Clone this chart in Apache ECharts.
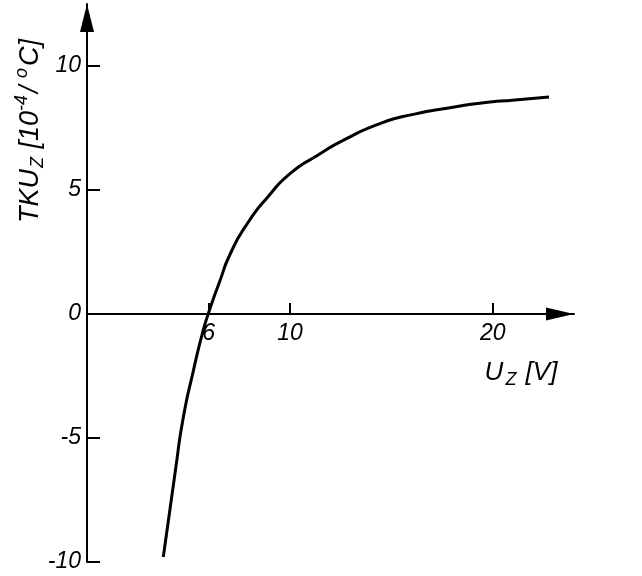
<!DOCTYPE html>
<html>
<head>
<meta charset="utf-8">
<script src="https://cdn.jsdelivr.net/npm/echarts@6/dist/echarts.min.js"></script>
<style>
html,body{margin:0;padding:0;background:#fff;}
#chart{width:642px;height:576px;}
</style>
</head>
<body>
<div id="chart"></div>
<script>
// Data
var uz = [3.76, 4.36, 4.75, 5.25, 5.69, 5.99, 6.53, 7.08, 7.92, 8.91, 10.05, 11.39, 12.67, 14.50, 16.14, 17.82, 19.46, 21.09, 22.77];
var tku = [-9.80, -6.29, -4.15, -2.26, -0.77, 0.04, 1.29, 2.46, 3.67, 4.72, 5.69, 6.41, 7.02, 7.70, 8.06, 8.31, 8.51, 8.63, 8.75];
var xTickValues = [6, 10, 20];
var yTickValues = [-10, -5, 0, 5, 10];

var points = uz.map(function (v, i) { return [v, tku[i]]; });
var font = 'Liberation Sans, Arial, sans-serif';

var chart = echarts.init(document.getElementById('chart'), null, {renderer: 'canvas'});
chart.setOption({
  backgroundColor: '#ffffff',
  animation: false,
  grid: {left: 87, right: 68, top: 4, bottom: 14, containLabel: false, outerBoundsMode: 'none'},
  xAxis: {
    type: 'value', min: 0, max: 24, position: 'bottom',
    axisLine: {onZero: false, lineStyle: {color: '#000', width: 2}, symbol: ['none', 'triangle'], symbolSize: [13, 28], symbolOffset: [0, -14]},
    axisTick: {show: true, inside: true, length: 11, lineStyle: {color: '#000', width: 2}, customValues: xTickValues},
    axisLabel: {color: '#000', fontSize: 23, fontStyle: 'italic', fontFamily: font, margin: 8, customValues: xTickValues},
    splitLine: {show: false}
  },
  yAxis: {
    type: 'value', min: -10, max: 12.5,
    axisLine: {lineStyle: {color: '#000', width: 2}, symbol: ['none', 'triangle'], symbolSize: [14, 28], symbolOffset: [0, -14]},
    axisTick: {show: true, inside: true, length: 13, lineStyle: {color: '#000', width: 2}, customValues: yTickValues},
    axisLabel: {color: '#000', fontSize: 23, fontStyle: 'italic', fontFamily: font, margin: 6, customValues: yTickValues},
    splitLine: {show: false}
  },
  series: [{
    type: 'line',
    data: points,
    smooth: 0.6,
    showSymbol: false,
    lineStyle: {color: '#000', width: 3},
    z: 5
  }],
  graphic: [
    {
      type: 'text',
      x: 30, y: 131,
      rotation: Math.PI / 2,
      style: {
        text: '{m|TKU}{sub|Z}{m| [10}{sup|-4}{m|/ }{sup|o}{m|C]}',
        align: 'center', verticalAlign: 'middle',
        fill: '#000',
        rich: {
          m: {fontSize: 27, fontStyle: 'italic', fontFamily: font, lineHeight: 34, fill: '#000'},
          sub: {fontSize: 18, fontStyle: 'italic', fontFamily: font, lineHeight: 34, verticalAlign: 'bottom', padding: [10, 1, 0, 1], fill: '#000'},
          sup: {fontSize: 18, fontStyle: 'italic', fontFamily: font, lineHeight: 34, verticalAlign: 'top', padding: [0, 2, 10, 0], fill: '#000'}
        }
      }
    },
    {
      type: 'text',
      x: 521, y: 373,
      style: {
        text: '{m|U}{sub|Z}{m| [V]}',
        align: 'center', verticalAlign: 'middle',
        fill: '#000',
        rich: {
          m: {fontSize: 26, fontStyle: 'italic', fontFamily: font, lineHeight: 32, fill: '#000'},
          sub: {fontSize: 18, fontStyle: 'italic', fontFamily: font, lineHeight: 32, verticalAlign: 'bottom', padding: [10, 2, 0, 2], fill: '#000'}
        }
      }
    }
  ]
});

// Place the x axis on y = 0 using the y scale (repeat so the layout settles)
for (var k = 0; k < 2; k++) {
  var yZero = chart.convertToPixel({yAxisIndex: 0}, 0);
  var yMinPx = chart.convertToPixel({yAxisIndex: 0}, -10);
  chart.setOption({xAxis: {offset: -(yMinPx - yZero)}});
}
</script>
</body>
</html>
